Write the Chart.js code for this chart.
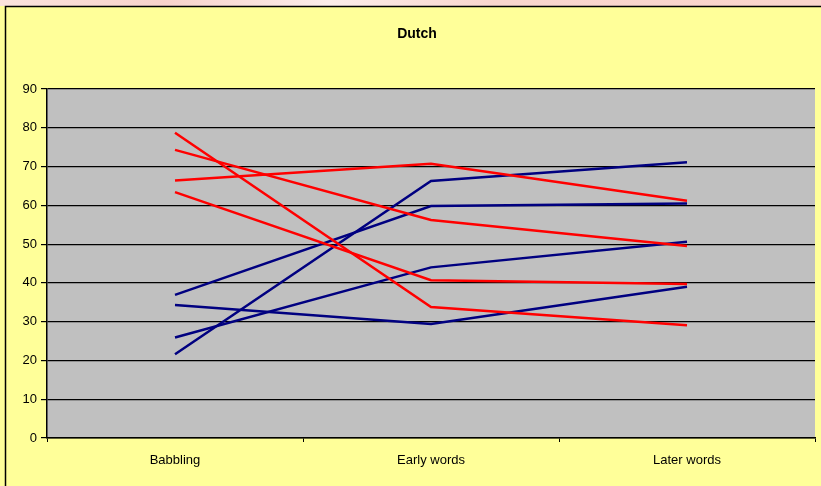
<!DOCTYPE html>
<html>
<head>
<meta charset="utf-8">
<script src="https://cdn.jsdelivr.net/npm/chart.js@4/dist/chart.umd.min.js"></script>
<style>
  html, body { margin: 0; padding: 0; background: #FFFF99; }
  #wrap { width: 821px; height: 486px; }
</style>
</head>
<body>
<div id="wrap"><canvas id="c" width="821" height="486"></canvas></div>
<script>
// chart data
const categories = ['Babbling', 'Early words', 'Later words'];
const yTicks = [0, 10, 20, 30, 40, 50, 60, 70, 80, 90];

// red series
const red1 = [78.7, 33.8, 29.1];
const red2 = [74.3, 56.2, 49.5];
const red3 = [66.4, 70.7, 61.2];
const red4 = [63.4, 40.7, 39.7];
// blue series
const blue1 = [21.6, 66.3, 71.1];
const blue2 = [36.9, 59.8, 60.5];
const blue3 = [25.9, 44.0, 50.6];
const blue4 = [34.3, 29.4, 39.0];

const RED = '#FF0000';
const BLUE = '#000080';

function series(label, data, color) {
  return {
    label, data,
    borderColor: color,
    backgroundColor: color,
    borderWidth: 2.5,
    pointRadius: 0,
    tension: 0,
    fill: false
  };
}

// yellow box, pink strip on top, grey plot area and the title
const backdrop = {
  id: 'backdrop',
  beforeDraw(chart) {
    const ctx = chart.ctx;
    const a = chart.chartArea;
    ctx.save();
    const g = ctx.createLinearGradient(0, 0, 821, 0);
    g.addColorStop(0, '#FBE3DD');
    g.addColorStop(0.2, '#F8D3CB');
    g.addColorStop(0.4, '#FCEDEA');
    g.addColorStop(0.6, '#F9D6CE');
    g.addColorStop(1, '#FAD5CC');
    ctx.fillStyle = g;
    ctx.fillRect(0, 0, 821, 6);
    ctx.fillStyle = '#FFFF99';
    ctx.fillRect(6, 6, 815, 480);
    ctx.strokeStyle = '#000';
    ctx.lineWidth = 1.5;
    ctx.beginPath();
    ctx.moveTo(5.5, 486);
    ctx.lineTo(5.5, 6.5);
    ctx.lineTo(821, 6.5);
    ctx.stroke();
    ctx.fillStyle = '#C0C0C0';
    ctx.fillRect(a.left, a.top, a.right - a.left, a.bottom - a.top);
    ctx.fillStyle = '#000';
    ctx.font = 'bold 14px "Liberation Sans", Arial, sans-serif';
    ctx.textAlign = 'center';
    ctx.textBaseline = 'middle';
    ctx.fillText('Dutch', 417, 34);
    ctx.restore();
  }
};

new Chart(document.getElementById('c'), {
  type: 'line',
  data: {
    labels: categories,
    datasets: [
      series('Red 1', red1, RED),
      series('Red 2', red2, RED),
      series('Red 3', red3, RED),
      series('Red 4', red4, RED),
      series('Blue 1', blue1, BLUE),
      series('Blue 2', blue2, BLUE),
      series('Blue 3', blue3, BLUE),
      series('Blue 4', blue4, BLUE)
    ]
  },
  options: {
    responsive: false,
    animation: false,
    layout: { padding: { left: 0, top: 89, right: 6, bottom: 0 } },
    plugins: {
      legend: { display: false },
      title: { display: false },
      tooltip: { enabled: false }
    },
    scales: {
      x: {
        type: 'category',
        offset: true,
        afterFit: s => { s.height = 48; },
        grid: {
          offset: true,
          drawOnChartArea: false,
          drawTicks: true,
          tickLength: 4,
          color: '#000'
        },
        border: { color: '#000', width: 1.5 },
        ticks: {
          color: '#000',
          padding: 11,
          font: { family: '"Liberation Sans", Arial, sans-serif', size: 13 }
        }
      },
      y: {
        min: 0,
        max: 90,
        afterFit: s => { s.width = 47; },
        afterBuildTicks: s => { s.ticks = yTicks.map(v => ({ value: v })); },
        grid: {
          color: '#000',
          lineWidth: 1.2,
          drawTicks: true,
          tickLength: 6
        },
        border: { color: '#000', width: 1.5 },
        ticks: {
          color: '#000',
          padding: 4,
          font: { family: '"Liberation Sans", Arial, sans-serif', size: 13 }
        }
      }
    }
  },
  plugins: [backdrop]
});
</script>
</body>
</html>
